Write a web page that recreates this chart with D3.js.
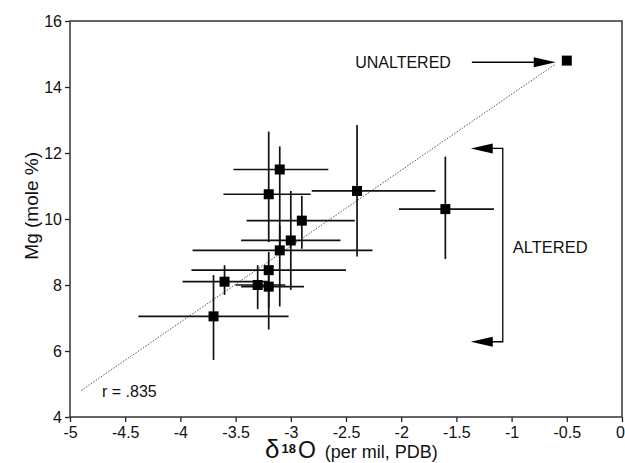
<!DOCTYPE html>
<html>
<head>
<meta charset="utf-8">
<script src="https://d3js.org/d3.v7.min.js"></script>
<style>
  body { margin: 0px; background: #fff; }
  text { font-family: "Liberation Sans", Arial, sans-serif; fill: #111; }
  .tick line { stroke: #222; stroke-width: 1.3; }
  .tick text { font-size: 16px; }
</style>
</head>
<body>
<div id="my_dataviz"></div>
<script>
// data
var d18O  = [-3.1, -3.2, -2.4, -1.6, -2.9, -3.0, -3.1, -3.2, -3.6, -3.3, -3.2, -3.7, -0.5];
var mg    = [11.5, 10.75, 10.85, 10.3, 9.95, 9.35, 9.05, 8.45, 8.1, 8.0, 7.95, 7.05, 14.8];
var xLow  = [-3.52, -3.61, -2.81, -2.02, -3.40, -3.45, -3.89, -3.90, -3.98, -3.50, -3.45, -4.38, null];
var xHigh = [-2.66, -2.82, -1.69, -1.16, -2.42, -2.55, -2.26, -2.50, -3.20, -3.05, -2.88, -3.02, null];
var yLow  = [9.0, 9.3, 8.86, 8.79, 9.1, 7.85, 7.35, 7.3, 7.7, 7.27, 6.65, 5.73, null];
var yHigh = [12.2, 12.65, 12.85, 11.89, 10.7, 10.85, 9.8, 9.0, 8.6, 8.6, 8.6, 8.3, null];
var xTicks = [-5, -4.5, -4, -3.5, -3, -2.5, -2, -1.5, -1, -0.5, 0];
var xTickLabels = ["-5", "-4.5", "-4", "-3.5", "-3", "-2.5", "-2", "-1.5", "-1", "-0.5", "0"];
var yTicks = [4, 6, 8, 10, 12, 14, 16];
var fitLine = [[-4.9, 4.8], [-0.6, 14.7]];

var W = 625, H = 463;
var margin = { top: 21, right: 3, bottom: 46, left: 70 };
var width = W - margin.left - margin.right,
    height = H - margin.top - margin.bottom;

var svg = d3.select("#my_dataviz")
  .append("svg")
  .attr("width", W)
  .attr("height", H)
  .append("g")
  .attr("transform", "translate(" + margin.left + "," + margin.top + ")");

var x = d3.scaleLinear().domain([-5, 0]).range([0, width]);
var y = d3.scaleLinear().domain([4, 16]).range([height, 0]);

// axes
var xAxis = svg.append("g")
  .attr("transform", "translate(0," + height + ")")
  .call(d3.axisBottom(x).tickValues(xTicks)
    .tickFormat(function (d, i) { return xTickLabels[i]; })
    .tickSize(5).tickPadding(3));
var yAxis = svg.append("g")
  .call(d3.axisLeft(y).tickValues(yTicks).tickFormat(d3.format("d"))
    .tickSize(5).tickPadding(3));
svg.selectAll(".domain").remove();
xAxis.selectAll(".tick text").attr("dy", "0.8em");
// keep the last label inside the page
xAxis.selectAll(".tick text").filter(function (d) { return d === 0; }).attr("dx", "-2");

// frame
svg.append("rect")
  .attr("x", 0).attr("y", 0)
  .attr("width", width).attr("height", height)
  .attr("fill", "none").attr("stroke", "#333").attr("stroke-width", 1.5);

// regression line
svg.append("line")
  .attr("x1", x(fitLine[0][0])).attr("y1", y(fitLine[0][1]))
  .attr("x2", x(fitLine[1][0])).attr("y2", y(fitLine[1][1]))
  .attr("stroke", "#555").attr("stroke-width", 1)
  .attr("stroke-dasharray", "1.5,1.5");

var pts = d18O.map(function (v, i) {
  return { x: v, y: mg[i], x0: xLow[i], x1: xHigh[i], y0: yLow[i], y1: yHigh[i] };
});
var withErr = pts.filter(function (d) { return d.x0 !== null; });

// error bars
svg.selectAll(".hbar").data(withErr).enter().append("line")
  .attr("x1", function (d) { return x(d.x0); })
  .attr("x2", function (d) { return x(d.x1); })
  .attr("y1", function (d) { return y(d.y); })
  .attr("y2", function (d) { return y(d.y); })
  .attr("stroke", "#111").attr("stroke-width", 1.7);
svg.selectAll(".vbar").data(withErr).enter().append("line")
  .attr("x1", function (d) { return x(d.x); })
  .attr("x2", function (d) { return x(d.x); })
  .attr("y1", function (d) { return y(d.y0); })
  .attr("y2", function (d) { return y(d.y1); })
  .attr("stroke", "#111").attr("stroke-width", 1.7);

// markers
svg.selectAll(".pt").data(pts).enter().append("rect")
  .attr("x", function (d) { return x(d.x) - 5; })
  .attr("y", function (d) { return y(d.y) - 5; })
  .attr("width", 10).attr("height", 10)
  .attr("fill", "#000");

// arrow helper
function arrowHead(tx, ty, dir) {
  // dir: 1 points right, -1 points left
  var len = 22, hw = 5;
  svg.append("path")
    .attr("d", "M" + tx + "," + ty + "L" + (tx - dir * len) + "," + (ty - hw) +
      "L" + (tx - dir * len) + "," + (ty + hw) + "Z")
    .attr("fill", "#000");
}

// UNALTERED annotation
var ua = { x0: -1.36, x1: -0.6, y: 14.75 };
svg.append("line")
  .attr("x1", x(ua.x0)).attr("x2", x(ua.x1) - 10)
  .attr("y1", y(ua.y)).attr("y2", y(ua.y))
  .attr("stroke", "#000").attr("stroke-width", 1.4);
arrowHead(x(ua.x1), y(ua.y), 1);
svg.append("text")
  .attr("x", x(-1.55)).attr("y", y(ua.y))
  .attr("text-anchor", "end").attr("dy", "0.35em")
  .style("font-size", "16px")
  .text("UNALTERED");

// ALTERED bracket
var al = { tip: -1.37, side: -1.08, top: 12.14, bot: 6.28 };
svg.append("path")
  .attr("d", "M" + (x(al.tip) + 10) + "," + y(al.top) + "H" + x(al.side) +
    "V" + y(al.bot) + "H" + (x(al.tip) + 10))
  .attr("fill", "none").attr("stroke", "#000").attr("stroke-width", 1.3);
arrowHead(x(al.tip), y(al.top), -1);
arrowHead(x(al.tip), y(al.bot), -1);
svg.append("text")
  .attr("x", x(-0.99)).attr("y", y(9.15))
  .attr("dy", "0.35em")
  .style("font-size", "16.5px")
  .text("ALTERED");

// r value
svg.append("text")
  .attr("x", x(-4.71)).attr("y", y(4.6))
  .style("font-size", "16px")
  .text("r = .835");

// axis titles
var xt = svg.append("text")
  .attr("x", 195).attr("y", height + 41)
  .attr("text-anchor", "start");
xt.append("tspan").style("font-size", "26px").text("\u03b4");
xt.append("tspan").style("font-size", "13px").style("font-weight", "bold")
  .attr("dy", "-5").attr("dx", "2").text("18");
xt.append("tspan").style("font-size", "23px").attr("dy", "5").attr("dx", "2").text("O");
xt.append("tspan").style("font-size", "18px").attr("dx", "9").text("(per mil, PDB)");

svg.append("text")
  .attr("transform", "translate(" + (-margin.left + 38) + "," + y(10.4) + ") rotate(-90)")
  .attr("text-anchor", "middle")
  .style("font-size", "19px")
  .text("Mg (mole %)");
</script>
</body>
</html>
